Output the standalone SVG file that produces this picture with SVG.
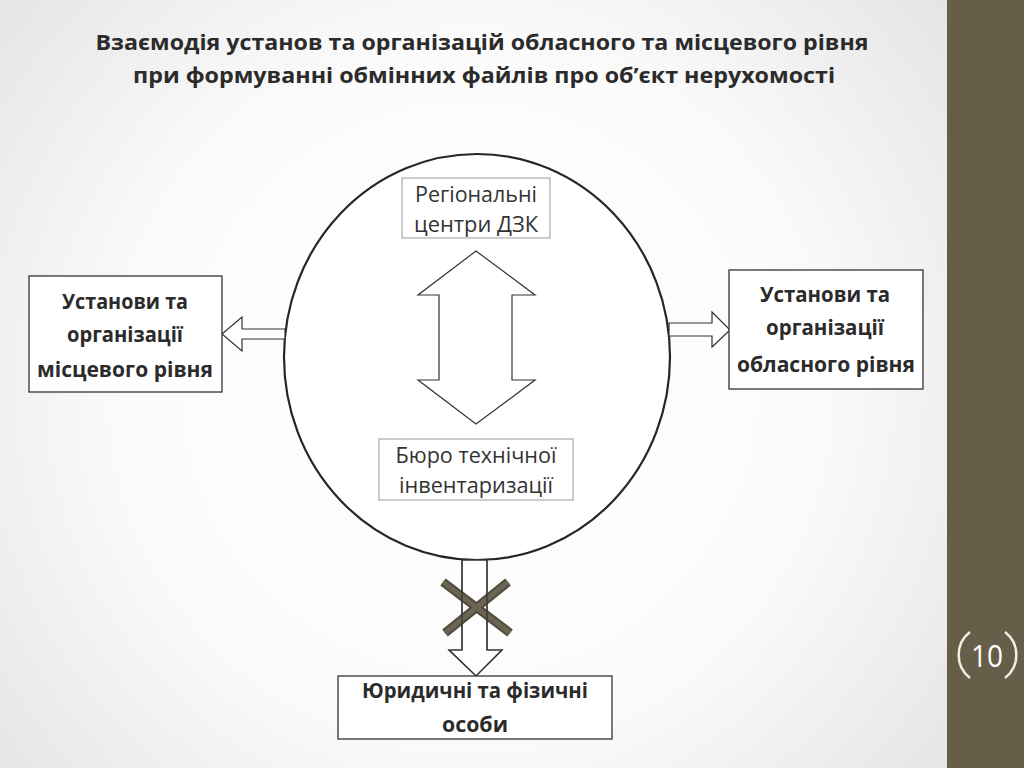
<svg xmlns="http://www.w3.org/2000/svg" width="1024" height="768" viewBox="0 0 1024 768">
<defs>
<radialGradient id="bg" cx="470" cy="390" r="620" gradientUnits="userSpaceOnUse">
<stop offset="0" stop-color="#ffffff"/>
<stop offset="0.55" stop-color="#fbfbfb"/>
<stop offset="1" stop-color="#e4e4e4"/>
</radialGradient>
<style>
.ttl{font-family:"Open Sans","Liberation Sans",sans-serif;font-weight:700;font-size:22px;fill:#2b2b2b;text-anchor:middle}
.bt{font-family:"Open Sans","Liberation Sans",sans-serif;font-weight:700;font-size:20.5px;fill:#2b2b2b;text-anchor:middle}
.it{font-family:"Open Sans","Liberation Sans",sans-serif;font-weight:400;font-size:21px;fill:#333;text-anchor:middle}
.box{fill:#fff;stroke:#333;stroke-width:1.3}
.ibox{fill:#fff;stroke:#9a9a9a;stroke-width:1}
.arr{fill:#fff;stroke:#333;stroke-width:1.2;stroke-linejoin:miter}
.arro{fill:none;stroke:#333;stroke-width:1.2;stroke-linejoin:miter}
.pg{font-family:"Open Sans","Liberation Sans",sans-serif;font-weight:400;font-size:31px;fill:#fff;text-anchor:middle}
</style>
</defs>
<rect x="0" y="0" width="1024" height="768" fill="url(#bg)"/>
<rect x="947" y="0" width="77" height="768" fill="#665e48"/>

<g id="title">
<text class="ttl" x="482" y="50" textLength="773" lengthAdjust="spacingAndGlyphs">Взаємодія установ та організацій обласного та місцевого рівня</text>
<text class="ttl" x="484" y="83" textLength="702" lengthAdjust="spacingAndGlyphs">при формуванні обмінних файлів про об’єкт нерухомості</text>
</g>

<g id="page-number">
<path d="M 970 632 A 29 29 0 0 0 970 678" fill="none" stroke="#f3eedf" stroke-width="2.5"/>
<path d="M 1005 632 A 29 29 0 0 1 1005 678" fill="none" stroke="#f3eedf" stroke-width="2.5"/>
<text class="pg" x="987" y="667" textLength="32" lengthAdjust="spacingAndGlyphs">10</text>
</g>

<g id="circle-node">
<ellipse cx="477" cy="357" rx="193" ry="203" fill="#fff" stroke="#262626" stroke-width="2.2"/>
</g>

<g id="connectors">
<polygon class="arr" points="222,334 242,317 242,329 285,329 285,339 242,339 242,351"/>
<polygon class="arr" points="730,330 712,312 712,323 669,323 669,336 712,336 712,347"/>
<polygon class="arr" points="462,560 487,560 487,650 502,650 476,676 449,650 462,650"/>
<polygon class="arr" points="476,251 535,295 512,295 512,380 535,380 476,424 418,380 439,380 439,295 418,295"/>
<g id="cross" stroke-linecap="butt">
<line x1="443" y1="582" x2="510" y2="633" stroke="#4f4a3c" stroke-width="9"/>
<line x1="508" y1="582" x2="445" y2="633" stroke="#4f4a3c" stroke-width="9"/>
<line x1="443" y1="582" x2="510" y2="633" stroke="#6b6452" stroke-width="5"/>
<line x1="508" y1="582" x2="445" y2="633" stroke="#6b6452" stroke-width="5"/>
</g>
<polygon class="arro" points="462,560 487,560 487,650 502,650 476,676 449,650 462,650"/>
</g>

<g id="regional-centers">
<rect class="ibox" x="402" y="178" width="148" height="60"/>
<text class="it" x="476" y="202" textLength="122" lengthAdjust="spacingAndGlyphs">Регіональні</text>
<text class="it" x="476" y="232" textLength="124" lengthAdjust="spacingAndGlyphs">центри ДЗК</text>
</g>

<g id="bti">
<rect class="ibox" x="379" y="439" width="194" height="61"/>
<text class="it" x="476" y="463" textLength="161" lengthAdjust="spacingAndGlyphs">Бюро технічної</text>
<text class="it" x="476" y="493" textLength="154" lengthAdjust="spacingAndGlyphs">інвентаризації</text>
</g>

<g id="local-institutions">
<rect class="box" x="29" y="276" width="193" height="116"/>
<text class="bt" x="125" y="309" textLength="126" lengthAdjust="spacingAndGlyphs">Установи та</text>
<text class="bt" x="125" y="342" textLength="116" lengthAdjust="spacingAndGlyphs">організації</text>
<text class="bt" x="125" y="377" textLength="176" lengthAdjust="spacingAndGlyphs">місцевого рівня</text>
</g>

<g id="regional-institutions">
<rect class="box" x="729" y="270" width="194" height="119"/>
<text class="bt" x="825" y="302" textLength="130" lengthAdjust="spacingAndGlyphs">Установи та</text>
<text class="bt" x="825" y="335" textLength="118" lengthAdjust="spacingAndGlyphs">організації</text>
<text class="bt" x="826" y="372" textLength="178" lengthAdjust="spacingAndGlyphs">обласного рівня</text>
</g>

<g id="legal-persons">
<rect class="box" x="338" y="676" width="274" height="63"/>
<text class="bt" x="475" y="698" textLength="226" lengthAdjust="spacingAndGlyphs">Юридичні та фізичні</text>
<text class="bt" x="475" y="732" textLength="66" lengthAdjust="spacingAndGlyphs">особи</text>
</g>
</svg>
